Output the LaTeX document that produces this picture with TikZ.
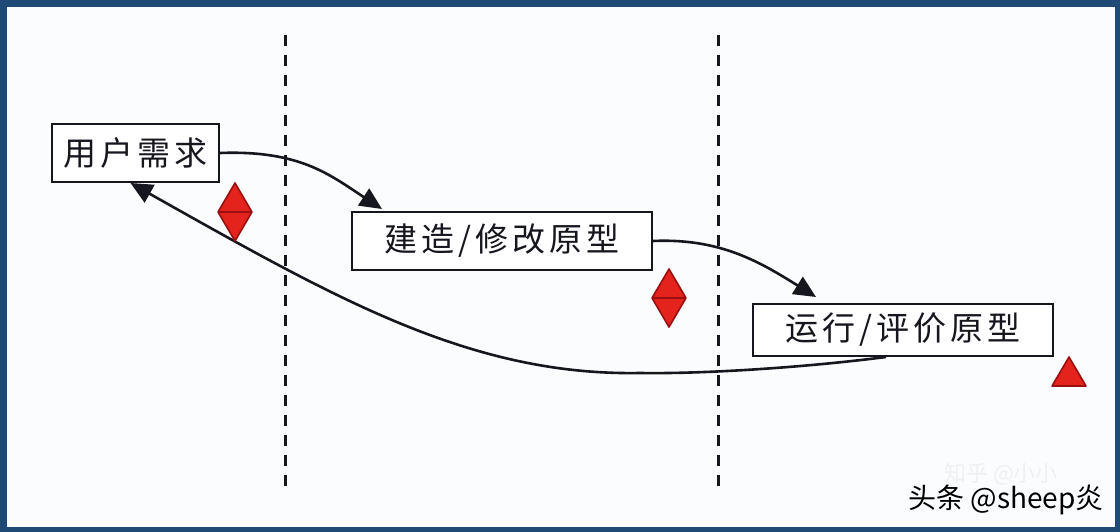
\documentclass[tikz,border=0pt]{standalone}
\usepackage{fontspec}
\newfontfamily\cjkbox[LetterSpace=12]{Noto Sans CJK SC}
\newfontfamily\cjkplain{Noto Sans CJK SC}
\usetikzlibrary{arrows.meta}
\definecolor{framecol}{HTML}{1F4A75}
\definecolor{paper}{HTML}{FAFCFE}
\definecolor{inkcol}{HTML}{16161E}
\definecolor{gemred}{HTML}{E3231C}
\definecolor{gemdark}{HTML}{9A0F0F}
\tikzset{
  box/.style={draw=inkcol, line width=2pt, fill=white, inner sep=0pt,
    font=\fontsize{33}{33}\selectfont\cjkbox, text=inkcol},
  conn/.style={draw=inkcol, line width=2.6pt,
    -{Triangle[length=22pt,width=20pt]}},
  divider/.style={draw=inkcol, line width=3pt, dash pattern=on 11pt off 9pt},
  gem/.style={fill=gemred, draw=gemdark, line width=1.6pt, line join=round},
  gemline/.style={draw=gemdark, line width=1.6pt},
}
\begin{document}
\begin{tikzpicture}[x=1pt,y=-1pt]
\fill[framecol] (0,0) rectangle (1120,532);
\fill[paper] (7,7) rectangle (1115,527);
\useasboundingbox (0,0) rectangle (1120,532);

% dividers
\draw[divider] (285,35) -- (285,495);
\draw[divider] (718,35) -- (718,495);

% boxes
\node[box, minimum width=167pt, minimum height=58pt] (b1) at (135.5,153) {用户需求};
\node[box, minimum width=300pt, minimum height=58pt] (b2) at (502,241) {建造/修改原型};
\node[box, minimum width=300pt, minimum height=52pt] (b3) at (903,330) {运行/评价原型};

% connector end points
\coordinate (t2) at ([xshift=31pt,yshift=2pt]b2.north west);
\coordinate (t3) at ([xshift=64pt,yshift=6pt]b3.north west);
\coordinate (s3) at ([xshift=-17pt]b3.south);
\coordinate (t1) at ([xshift=-5pt]b1.south);
\coordinate (low) at (640,373);

% connectors
\draw[conn] (b1.east) .. controls (300,150) and (330,175) .. (t2);
\draw[conn] (b2.east) .. controls (720,238) and (760,262) .. (t3);
\draw[conn] (s3) .. controls (800,368) and (700,374) .. (low)
  .. controls (470,376) and (335,298) .. (t1);

% markers
\filldraw[gem] (235,183) -- (252,212) -- (235,241) -- (218,212) -- cycle;
\draw[gemline] (218,212) -- (252,212);
\filldraw[gem] (669,269) -- (686,298) -- (669,327) -- (652,298) -- cycle;
\draw[gemline] (652,298) -- (686,298);
\filldraw[gem] (1052,386) -- (1086,386) -- (1069,357) -- cycle;

% watermarks
\node[font=\fontsize{22}{22}\selectfont\cjkplain, text=gray!12, inner sep=0pt] (wm2) at (1001,474) {知乎 @小小};
\node[font=\fontsize{28}{28}\selectfont\cjkplain, text=black, anchor=east, inner sep=0pt] (wm1) at (1104,500) {头条 @sheep炎};
\end{tikzpicture}
\end{document}
